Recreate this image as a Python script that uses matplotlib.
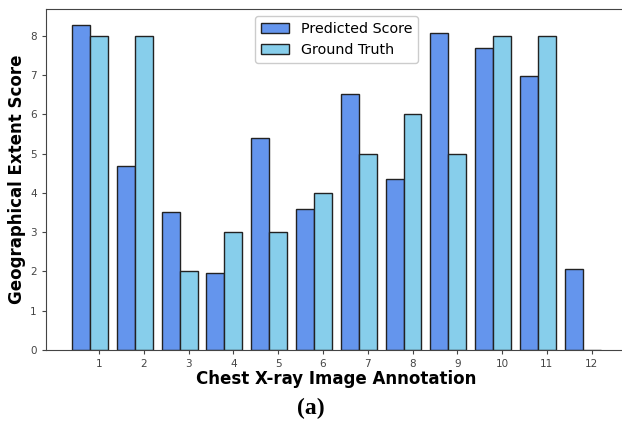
import numpy as np
import matplotlib
matplotlib.use("Agg")
import matplotlib.pyplot as plt

labels = ["1", "2", "3", "4", "5", "6", "7", "8", "9", "10", "11", "12"]
predicted = [8.27, 4.69, 3.51, 1.97, 5.40, 3.59, 6.53, 4.36, 8.07, 7.70, 6.99, 2.07]
ground_truth = [8, 8, 2, 3, 3, 4, 5, 6, 5, 8, 8, 0]

fig = plt.figure(figsize=(6.22, 4.23), dpi=100)
ax = fig.add_axes([0.0735, 0.1726, 0.9346, 0.8061])

x = np.arange(len(labels))
w = 0.4
ax.bar(x - w, predicted, w, color="cornflowerblue", edgecolor="#222222", linewidth=1.0, label="Predicted Score")
ax.bar(x, ground_truth, w, color="skyblue", edgecolor="#222222", linewidth=1.0, label="Ground Truth")

for s in ax.spines.values():
    s.set_color("#444444")

ax.set_xticks(x)
ax.set_xticklabels(labels)
ax.tick_params(axis="both", labelsize=7.5, colors="#444444", length=3)
ax.set_xlabel("Chest X-ray Image Annotation", fontsize=12, fontweight="bold", labelpad=1)
ax.set_ylabel("Geographical Extent Score", fontsize=12, fontweight="bold", labelpad=3)
ax.legend(loc="upper center", fontsize=10.3, framealpha=1, bbox_to_anchor=(0.5, 1.0))

fig.text(0.5, 0.035, "(a)", ha="center", va="center", fontsize=17, fontweight="bold",
         family="Liberation Serif")

fig.savefig("out.png", dpi=100)
